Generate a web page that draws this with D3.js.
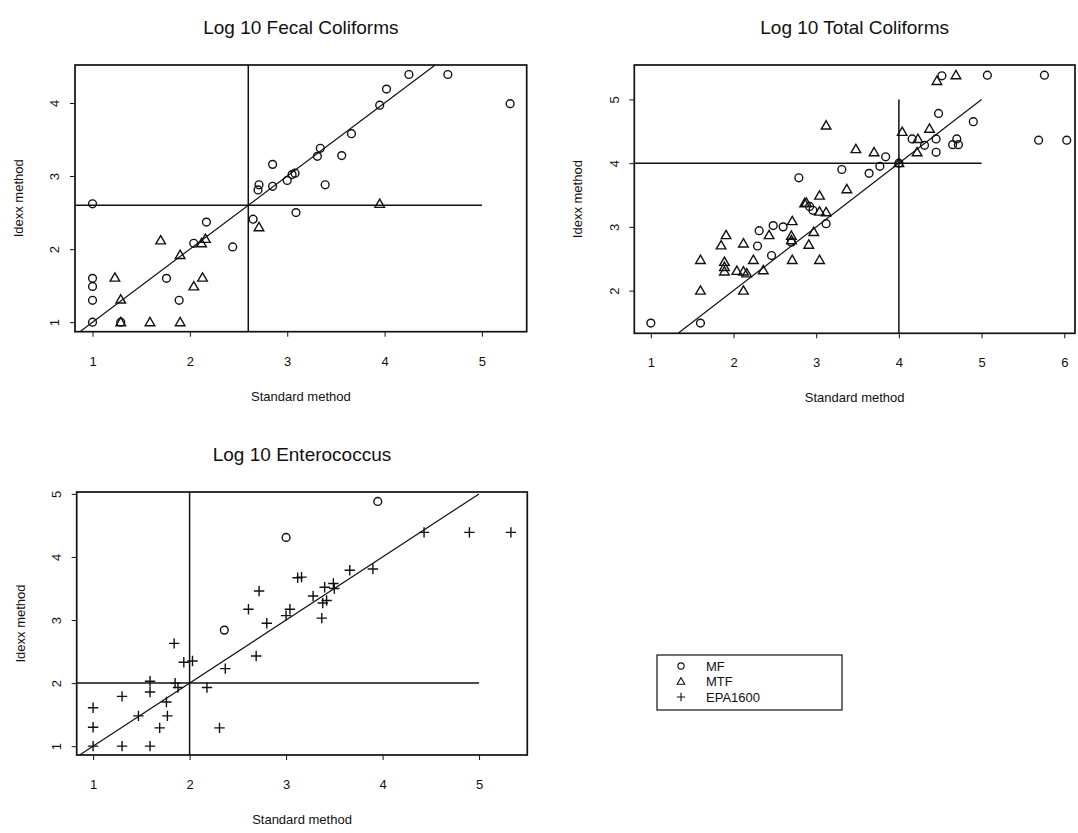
<!DOCTYPE html>
<html lang="en">
<head>
    <meta charset="UTF-8">
    <title>Log 10 indicator comparison</title>
    <script src="https://d3js.org/d3.v7.min.js"></script>
    <style>
        body { margin: 0; background: #fff; }
        svg text { font-family: "Liberation Sans", Arial, sans-serif; fill: #111; }
        .title { font-size: 19px; }
        .axis-label { font-size: 13px; }
        .tick-label { font-size: 13px; }
        .frame, .ref, .fit { fill: none; stroke: #111; }
        .frame { stroke-width: 1.7px; }
        .ref { stroke-width: 1.5px; }
        .fit { stroke-width: 1.2px; }
        .pt { fill: none; stroke: #111; stroke-width: 1.4px; }
    </style>
</head>
<body>
<svg width="1078" height="833"></svg>
<script>
// Fecal coliforms: [standard, idexx]
const fecalMF = [
    [1.0, 2.62], [2.85, 3.16], [2.71, 2.88], [2.70, 2.81], [2.85, 2.86], [3.0, 2.94],
    [3.05, 3.02], [3.08, 3.04], [3.09, 2.50], [2.65, 2.41], [2.17, 2.37], [2.04, 2.08],
    [2.44, 2.03], [1.0, 1.60], [1.0, 1.49], [1.0, 1.30], [1.76, 1.60], [1.89, 1.30],
    [1.0, 1.0], [1.29, 1.0], [4.25, 4.39], [4.65, 4.39], [5.29, 3.99], [4.02, 4.19],
    [3.95, 3.97], [3.66, 3.58], [3.34, 3.38], [3.31, 3.27], [3.56, 3.28], [3.39, 2.88]
];
const fecalMTF = [
    [2.71, 2.30], [1.70, 2.12], [2.12, 2.08], [2.16, 2.14], [1.90, 1.92], [1.23, 1.61],
    [2.13, 1.61], [2.04, 1.49], [1.29, 1.31], [1.29, 1.0], [1.59, 1.0], [1.90, 1.0],
    [3.95, 2.62]
];

// Total coliforms
const totalMF = [
    [2.79, 3.77], [2.92, 3.32], [2.96, 3.26], [3.12, 3.05], [2.60, 3.0], [2.48, 3.02],
    [2.31, 2.94], [2.70, 2.76], [2.29, 2.70], [2.46, 2.55], [1.0, 1.49], [1.60, 1.49],
    [4.52, 5.37], [5.07, 5.38], [5.76, 5.38], [4.48, 4.78], [4.90, 4.65], [4.16, 4.38],
    [4.45, 4.38], [4.31, 4.28], [4.70, 4.38], [4.65, 4.29], [4.72, 4.29], [4.45, 4.17],
    [5.69, 4.36], [6.03, 4.36], [3.84, 4.10], [3.77, 3.95], [3.31, 3.90], [3.64, 3.84],
    [4.0, 4.0]
];
const totalMTF = [
    [3.12, 4.59], [3.04, 3.49], [2.86, 3.37], [2.88, 3.38], [3.04, 3.24], [3.12, 3.23],
    [2.71, 3.09], [2.43, 2.87], [2.70, 2.86], [2.70, 2.79], [2.97, 2.92], [2.91, 2.72],
    [3.04, 2.48], [2.71, 2.48], [1.91, 2.87], [1.85, 2.71], [2.12, 2.74], [2.24, 2.48],
    [1.60, 2.48], [1.89, 2.45], [1.89, 2.37], [1.89, 2.30], [2.04, 2.31], [2.12, 2.30],
    [2.16, 2.27], [2.36, 2.32], [1.60, 2.0], [2.12, 2.0], [4.46, 5.29], [4.69, 5.38],
    [4.04, 4.49], [4.37, 4.54], [4.23, 4.38], [4.22, 4.17], [3.48, 4.22], [3.70, 4.17],
    [3.37, 3.59], [4.0, 4.0]
];

// Enterococcus
const enteroMF = [[3.0, 4.31], [2.36, 2.84], [3.95, 4.88]];
const enteroEPA = [
    [2.72, 3.46], [2.61, 3.17], [3.04, 3.17], [3.0, 3.07], [3.12, 3.67], [2.80, 2.95],
    [2.69, 2.43], [2.37, 2.23], [1.84, 2.63], [1.94, 2.33], [2.03, 2.35], [1.59, 2.03],
    [1.85, 2.0], [1.88, 1.93], [1.59, 1.86], [1.30, 1.79], [2.18, 1.93], [1.0, 1.61],
    [1.76, 1.70], [1.47, 1.48], [1.77, 1.48], [1.0, 1.30], [1.69, 1.29], [2.31, 1.29],
    [1.0, 1.0], [1.30, 1.0], [1.59, 1.0], [4.43, 4.39], [4.90, 4.39], [5.33, 4.39],
    [3.66, 3.79], [3.90, 3.81], [3.16, 3.68], [3.40, 3.52], [3.49, 3.58], [3.50, 3.50],
    [3.28, 3.38], [3.42, 3.31], [3.38, 3.27], [3.37, 3.03]
];

const legendLabels = ["MF", "MTF", "EPA1600"];

const svg = d3.select("svg");

// marker paths centred at 0,0
function markPath(kind) {
    if (kind === "circle") return d3.symbol(d3.symbolCircle, 48)();
    if (kind === "triangle") return "M0,-4.8L4.8,3.5L-4.8,3.5Z";
    return "M-5.2,0H5.2M0,-5.2V5.2";
}

function panel(cfg) {
    const x = d3.scaleLinear().domain(cfg.xd).range(cfg.xr);
    const y = d3.scaleLinear().domain(cfg.yd).range(cfg.yr);
    const g = svg.append("g");
    const [x0, x1] = cfg.xr, [y0, y1] = cfg.yr;

    // title
    g.append("text").attr("class", "title")
        .attr("x", (x0 + x1) / 2).attr("y", y1 - 31)
        .attr("text-anchor", "middle").text(cfg.title);

    // x axis
    const xa = g.append("g").attr("transform", `translate(0,${y0})`)
        .call(d3.axisBottom(x).tickValues(cfg.xt).tickSize(5).tickFormat(d3.format("d")));
    xa.select(".domain").remove();
    xa.selectAll("text").attr("class", "tick-label").attr("dy", "2em").attr("font-size", null).attr("font-family", null);
    xa.selectAll("line").attr("stroke", "#111");

    // y axis, labels rotated like base R
    const ya = g.append("g").attr("transform", `translate(${x0},0)`)
        .call(d3.axisLeft(y).tickValues(cfg.yt).tickSize(5).tickFormat(d3.format("d")));
    ya.select(".domain").remove();
    ya.selectAll("line").attr("stroke", "#111");
    ya.selectAll("text").attr("class", "tick-label").attr("font-size", null).attr("font-family", null)
        .attr("x", null).attr("dy", null)
        .attr("transform", "translate(-19,0) rotate(-90)")
        .attr("text-anchor", "middle").attr("dominant-baseline", "middle");

    g.append("text").attr("class", "axis-label")
        .attr("x", (x0 + x1) / 2).attr("y", y0 + 69)
        .attr("text-anchor", "middle").text("Standard method");
    g.append("text").attr("class", "axis-label")
        .attr("transform", `translate(${x0 - 52},${(y0 + y1) / 2}) rotate(-90)`)
        .attr("text-anchor", "middle").text("Idexx method");

    // plot box
    g.append("rect").attr("class", "frame")
        .attr("x", x0).attr("y", y1).attr("width", x1 - x0).attr("height", y0 - y1);

    // cut-off lines
    const c = cfg.cut;
    g.append("line").attr("class", "ref")
        .attr("x1", x(c)).attr("x2", x(c)).attr("y1", y0).attr("y2", cfg.vTop ? y(cfg.vTop) : y1);
    g.append("line").attr("class", "ref")
        .attr("x1", x0).attr("x2", x(cfg.hEnd)).attr("y1", y(c)).attr("y2", y(c));

    // 1:1 line
    const lo = Math.max(cfg.xd[0], cfg.yd[0]);
    const hi = Math.min(cfg.fitEnd, cfg.yd[1]);
    g.append("line").attr("class", "fit")
        .attr("x1", x(lo)).attr("y1", y(lo)).attr("x2", x(hi)).attr("y2", y(hi));

    cfg.series.forEach(s => {
        g.append("g").selectAll("path").data(s.data).join("path")
            .attr("class", "pt")
            .attr("d", markPath(s.kind))
            .attr("transform", d => `translate(${x(d[0])},${y(d[1])})`);
    });
}

panel({
    title: "Log 10 Fecal Coliforms",
    xd: [0.82, 5.46], xr: [75, 526.7], yd: [0.87, 4.52], yr: [331.7, 65],
    xt: [1, 2, 3, 4, 5], yt: [1, 2, 3, 4],
    cut: 2.6, hEnd: 5, fitEnd: 5,
    series: [{ kind: "circle", data: fecalMF }, { kind: "triangle", data: fecalMTF }]
});

panel({
    title: "Log 10 Total Coliforms",
    xd: [0.80, 6.13], xr: [634.3, 1075], yd: [1.33, 5.54], yr: [333.3, 65],
    xt: [1, 2, 3, 4, 5, 6], yt: [2, 3, 4, 5],
    cut: 4, hEnd: 5, vTop: 5, fitEnd: 5,
    series: [{ kind: "circle", data: totalMF }, { kind: "triangle", data: totalMTF }]
});

panel({
    title: "Log 10 Enterococcus",
    xd: [0.83, 5.5], xr: [76.7, 527.3], yd: [0.86, 5.03], yr: [755, 492],
    xt: [1, 2, 3, 4, 5], yt: [1, 2, 3, 4, 5],
    cut: 2, hEnd: 5, fitEnd: 5,
    series: [{ kind: "circle", data: enteroMF }, { kind: "plus", data: enteroEPA }]
});

// legend
const kinds = ["circle", "triangle", "plus"];
const lg = svg.append("g").attr("transform", "translate(657,655)");
lg.append("rect").attr("class", "frame").attr("width", 185).attr("height", 55)
    .style("stroke-width", "1.2px");
const rows = lg.selectAll("g.row").data(legendLabels).join("g")
    .attr("class", "row")
    .attr("transform", (d, i) => `translate(24,${11 + i * 15.5})`);
rows.append("path").attr("class", "pt").attr("d", (d, i) => markPath(kinds[i]))
    .attr("transform", "scale(0.8)");
rows.append("text").attr("class", "tick-label").attr("x", 25).attr("dy", "0.35em").text(d => d);
</script>
</body>
</html>
